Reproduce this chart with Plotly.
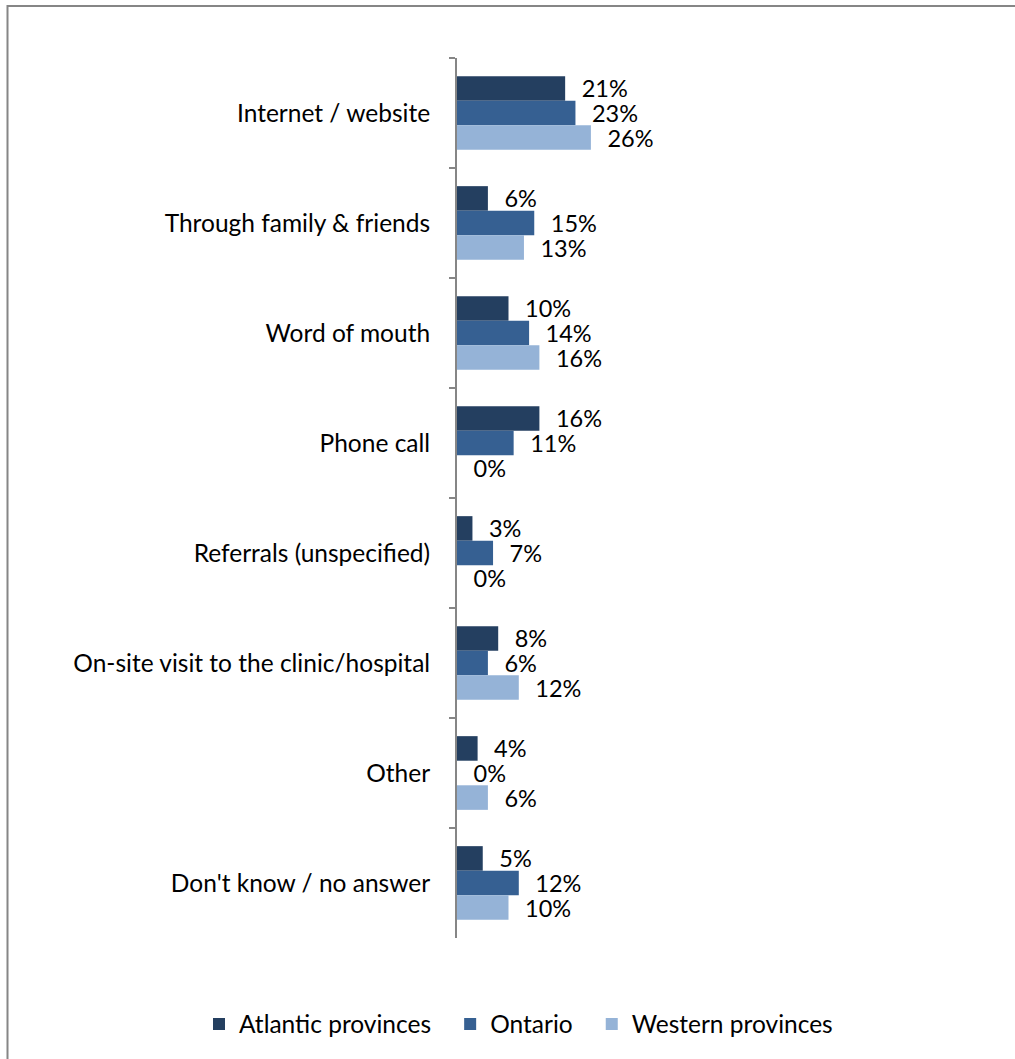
import plotly.graph_objects as go

categories = ["Internet / website", "Through family & friends", "Word of mouth", "Phone call",
              "Referrals (unspecified)", "On-site visit to the clinic/hospital", "Other",
              "Don't know / no answer"]
atlantic = [0.21, 0.06, 0.10, 0.16, 0.03, 0.08, 0.04, 0.05]
ontario = [0.23, 0.15, 0.14, 0.11, 0.07, 0.06, 0.00, 0.12]
western = [0.26, 0.13, 0.16, 0.00, 0.00, 0.12, 0.06, 0.10]
series_names = ["Atlantic provinces", "Ontario", "Western provinces"]
colors = ["#243F60", "#366092", "#95B3D7"]

W, H = 1015, 1059
L, R, T, B = 457, 43, 58, 121
pw, ph = W - L - R, H - T - B
FS = 24.5
VFS = 23.5

fig = go.Figure()
for name, vals, col in zip(series_names, [atlantic, ontario, western], colors):
    fig.add_trace(go.Bar(
        y=categories, x=vals, name=name + "\u00a0\u00a0\u200a", orientation="h",
        marker=dict(color=col, line=dict(width=0)),
        text=vals, texttemplate="\u00a0\u00a0\u200a%{x:.0%}", textposition="outside",
        textfont=dict(size=VFS, color="#000000"), cliponaxis=False, constraintext="none",
    ))

def px_x(px):
    return (px - L) / pw

def px_y(py):
    return 1 - (py - T) / ph

fig.add_shape(type="rect", xref="paper", yref="paper",
              x0=px_x(7.5), x1=px_x(1030), y0=px_y(6), y1=px_y(1075),
              line=dict(color="#868686", width=2), fillcolor="rgba(0,0,0,0)", layer="below")

fig.update_layout(
    width=W, height=H,
    margin=dict(l=L, r=R, t=T, b=B, autoexpand=False),
    barmode="group", bargap=0.33, bargroupgap=0,
    plot_bgcolor="white", paper_bgcolor="white",
    font=dict(family="Lato, Open Sans, sans-serif", size=FS, color="#000000"),
    xaxis=dict(range=[0, 1], visible=False, showgrid=False, zeroline=False),
    yaxis=dict(autorange="reversed", type="category", showline=True, linecolor="#868686",
               linewidth=2, ticks="outside", tickson="boundaries", ticklen=6,
               tickcolor="#868686", tickwidth=2, ticklabelstandoff=20,
               showgrid=False, tickfont=dict(size=FS, color="#000000")),
    legend=dict(orientation="h", xref="paper", yref="paper", x=px_x(199), y=px_y(1024),
                xanchor="left", yanchor="middle", font=dict(size=FS),
                itemwidth=30, traceorder="normal", tracegroupgap=0,
                bgcolor="rgba(0,0,0,0)"),
    showlegend=True,
)

fig.write_html("out.html", config={"displayModeBar": False},
               post_script="document.body.style.margin='0';document.body.style.overflow='hidden';")
